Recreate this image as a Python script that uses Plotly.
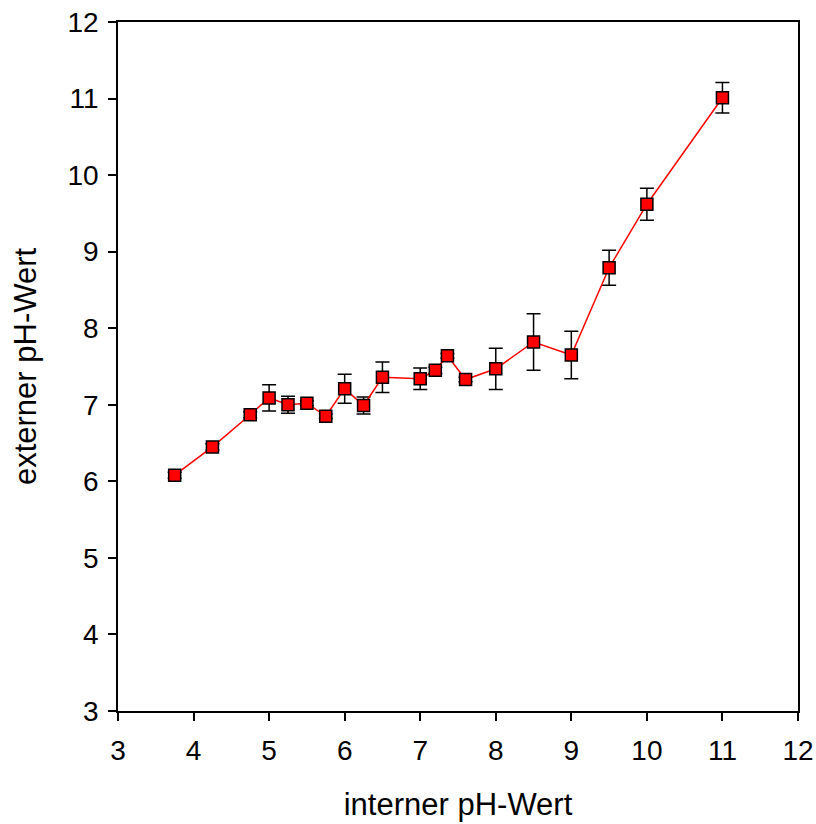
import plotly.graph_objects as go

# internal vs. external pH, mean with standard deviation
ph_intern = [3.75, 4.25, 4.75, 5.0, 5.25, 5.5, 5.75, 6.0, 6.25, 6.5,
             7.0, 7.2, 7.36, 7.6, 8.0, 8.5, 9.0, 9.5, 10.0, 11.0]
ph_extern = [6.08, 6.45, 6.87, 7.09, 7.00, 7.02, 6.85, 7.21, 6.99, 7.36,
             7.34, 7.45, 7.64, 7.33, 7.47, 7.82, 7.65, 8.79, 9.62, 11.01]
ph_sd = [0.04, 0.04, 0.04, 0.17, 0.11, 0.03, 0.03, 0.19, 0.11, 0.20,
         0.14, 0.04, 0.03, 0.03, 0.27, 0.37, 0.31, 0.23, 0.21, 0.20]

x_ticks = list(range(3, 13))
y_ticks = list(range(3, 13))

FONT = "Liberation Sans, Arial, sans-serif"

fig = go.Figure()
fig.add_trace(go.Scatter(
    x=ph_intern, y=ph_extern,
    mode="lines+markers",
    line=dict(color="#ff0000", width=1.5),
    marker=dict(symbol="square", size=12, color="#ff0000",
                line=dict(color="black", width=1.5)),
    error_y=dict(type="data", array=ph_sd, visible=True,
                 color="black", thickness=1.5, width=7),
    showlegend=False,
))

axis_common = dict(
    showgrid=False, zeroline=False, automargin=False,
    showline=True, linecolor="black", linewidth=1.5, mirror=True,
    ticks="outside", ticklen=8, tickwidth=1.5, tickcolor="black",
    tickfont=dict(family=FONT, size=28, color="black"),
    ticklabeloverflow="allow",
)

fig.update_xaxes(range=[3, 12], tickvals=x_ticks, ticklabelstandoff=6,
                 title=dict(text="interner pH-Wert", standoff=28,
                            font=dict(family=FONT, size=31, color="black")),
                 **axis_common)
fig.update_yaxes(range=[3, 12], tickvals=y_ticks, ticklabelstandoff=4,
                 title=dict(text="externer pH-Wert", standoff=22,
                            font=dict(family=FONT, size=31, color="black")),
                 **axis_common)

fig.update_layout(
    width=816, height=824,
    margin=dict(l=118, r=18, t=22, b=113),
    paper_bgcolor="white", plot_bgcolor="white",
)

fig.write_html("out.html")
